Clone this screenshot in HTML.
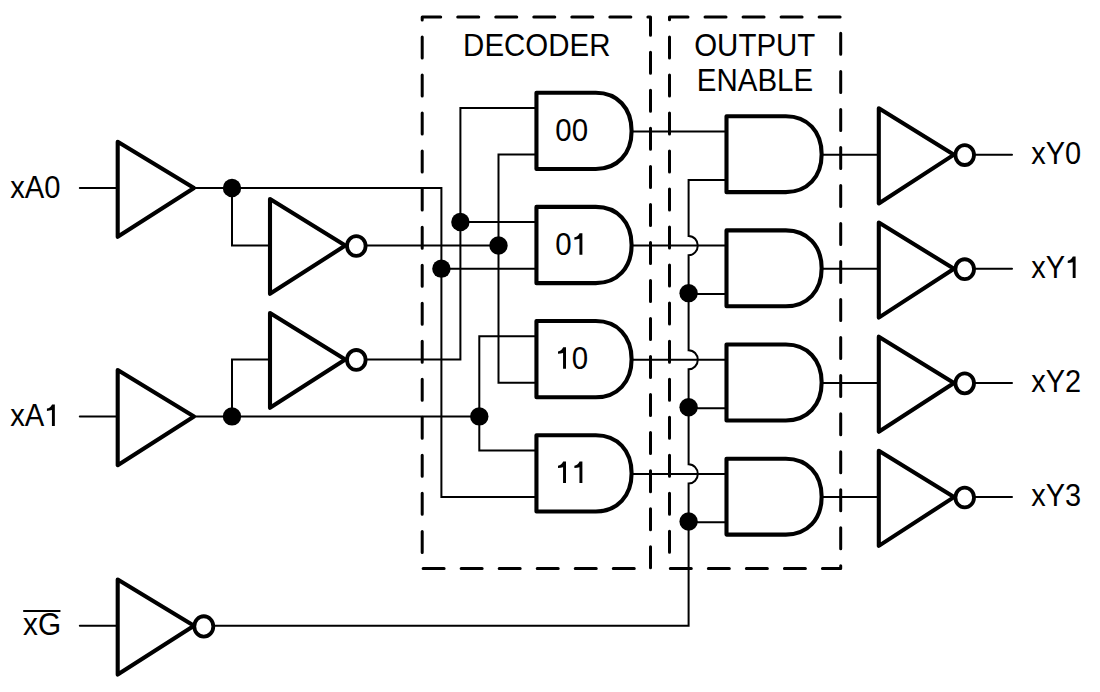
<!DOCTYPE html>
<html><head><meta charset="utf-8"><style>
html,body{margin:0;padding:0;background:#fff;width:1100px;height:692px;overflow:hidden}
svg{display:block}
text{font-family:"Liberation Sans",sans-serif}
</style></head><body>
<svg width="1100" height="692" viewBox="0 0 1100 692" stroke="#000" fill="none" stroke-linecap="round">
<path d="M422.2 16.9 L650.5 16.9 L650.5 568.5 L422.2 568.5 Z" fill="none" stroke-width="3.0" stroke-dasharray="21 17.03" stroke-dashoffset="2.5" stroke-linejoin="round"/>
<path d="M669.5 16.9 L840.7 16.9 L840.7 568.5 L669.5 568.5 Z" fill="none" stroke-width="3.0" stroke-dasharray="21 17.03" stroke-dashoffset="2.5" stroke-linejoin="round"/>
<path d="M79.80 188.00 L118.00 188.00" stroke-width="2.0"/>
<path d="M79.80 416.40 L118.00 416.40" stroke-width="2.0"/>
<path d="M79.80 625.80 L118.00 625.80" stroke-width="2.0"/>
<path d="M194.00 188.00 L441.40 188.00 L441.40 496.90 L536.45 496.90" stroke-width="2.0"/>
<path d="M232.00 188.00 L232.00 245.55 L270.00 245.55" stroke-width="2.0"/>
<path d="M356.00 245.55 L498.50 245.55" stroke-width="2.0"/>
<path d="M194.00 416.40 L479.30 416.40" stroke-width="2.0"/>
<path d="M232.00 416.40 L232.00 359.50 L270.00 359.50" stroke-width="2.0"/>
<path d="M356.00 359.50 L460.40 359.50 L460.40 107.90 L536.45 107.90" stroke-width="2.0"/>
<path d="M460.40 222.00 L536.45 222.00" stroke-width="2.0"/>
<path d="M441.40 268.65 L536.45 268.65" stroke-width="2.0"/>
<path d="M536.45 154.55 L498.50 154.55 L498.50 382.65 L536.45 382.65" stroke-width="2.0"/>
<path d="M536.45 336.20 L479.30 336.20 L479.30 450.40 L536.45 450.40" stroke-width="2.0"/>
<path d="M117.70 141.70 L194.00 188.00 L117.70 236.80 Z" fill="#fff" stroke-width="4.1" stroke-linejoin="round"/>
<path d="M117.70 370.10 L194.00 416.40 L117.70 465.20 Z" fill="#fff" stroke-width="4.1" stroke-linejoin="round"/>
<path d="M270.00 199.05 L345.30 245.55 L270.00 293.85 Z" fill="#fff" stroke-width="4.1" stroke-linejoin="round"/>
<path d="M270.00 313.00 L345.30 359.50 L270.00 407.80 Z" fill="#fff" stroke-width="4.1" stroke-linejoin="round"/>
<path d="M117.70 579.50 L194.00 625.80 L117.70 674.60 Z" fill="#fff" stroke-width="4.1" stroke-linejoin="round"/>
<ellipse cx="356.30" cy="246.00" rx="9.3" ry="9.950000000000001" fill="#fff" stroke-width="3.8"/>
<ellipse cx="356.30" cy="359.95" rx="9.3" ry="9.950000000000001" fill="#fff" stroke-width="3.8"/>
<ellipse cx="203.80" cy="626.40" rx="9.5" ry="10.15" fill="#fff" stroke-width="3.8"/>
<circle cx="232.00" cy="188.00" r="9.2" fill="#000" stroke="none"/>
<circle cx="232.00" cy="416.40" r="9.2" fill="#000" stroke="none"/>
<circle cx="460.40" cy="222.00" r="9.2" fill="#000" stroke="none"/>
<circle cx="498.50" cy="245.55" r="9.2" fill="#000" stroke="none"/>
<circle cx="441.40" cy="268.65" r="9.2" fill="#000" stroke="none"/>
<circle cx="479.30" cy="416.40" r="9.2" fill="#000" stroke="none"/>
<path d="M595.80 92.75 L536.45 92.75 L536.45 169.00 L595.80 169.00 C617.28 169.00 631.60 153.75 631.60 130.88 C631.60 108.00 617.28 92.75 595.80 92.75 Z" fill="#fff" stroke-width="4.1" stroke-linejoin="round"/>
<path d="M595.80 206.90 L536.45 206.90 L536.45 283.15 L595.80 283.15 C617.28 283.15 631.60 267.90 631.60 245.03 C631.60 222.15 617.28 206.90 595.80 206.90 Z" fill="#fff" stroke-width="4.1" stroke-linejoin="round"/>
<path d="M595.80 321.05 L536.45 321.05 L536.45 397.30 L595.80 397.30 C617.28 397.30 631.60 382.05 631.60 359.18 C631.60 336.30 617.28 321.05 595.80 321.05 Z" fill="#fff" stroke-width="4.1" stroke-linejoin="round"/>
<path d="M595.80 435.20 L536.45 435.20 L536.45 511.45 L595.80 511.45 C617.28 511.45 631.60 496.20 631.60 473.33 C631.60 450.45 617.28 435.20 595.80 435.20 Z" fill="#fff" stroke-width="4.1" stroke-linejoin="round"/>
<path d="M214 625.8 L688.6 625.8 L688.6 483.50 A9.2 9.6 0 0 0 688.6 464.30 L688.6 369.35 A9.2 9.6 0 0 0 688.6 350.15 L688.6 255.20 A9.2 9.6 0 0 0 688.6 236.00 L688.6 179.9 L726.5 179.9" stroke-width="2.0" fill="none"/>
<path d="M631.60 131.45 L726.50 131.45" stroke-width="2.0"/>
<path d="M785.85 116.25 L726.50 116.25 L726.50 192.15 L785.85 192.15 C807.33 192.15 821.65 176.97 821.65 154.20 C821.65 131.43 807.33 116.25 785.85 116.25 Z" fill="#fff" stroke-width="4.1" stroke-linejoin="round"/>
<path d="M821.60 154.65 L878.80 154.65" stroke-width="2.0"/>
<path d="M878.80 108.35 L954.00 154.65 L878.80 203.45 Z" fill="#fff" stroke-width="4.1" stroke-linejoin="round"/>
<ellipse cx="964.70" cy="155.05" rx="9.3" ry="9.950000000000001" fill="#fff" stroke-width="3.8"/>
<path d="M975.00 154.65 L1012.00 154.65" stroke-width="2.0"/>
<path d="M631.60 245.60 L726.50 245.60" stroke-width="2.0"/>
<path d="M688.60 294.05 L726.50 294.05" stroke-width="2.0"/>
<circle cx="688.60" cy="293.15" r="9.2" fill="#000" stroke="none"/>
<path d="M785.85 230.40 L726.50 230.40 L726.50 306.30 L785.85 306.30 C807.33 306.30 821.65 291.12 821.65 268.35 C821.65 245.58 807.33 230.40 785.85 230.40 Z" fill="#fff" stroke-width="4.1" stroke-linejoin="round"/>
<path d="M821.60 268.80 L878.80 268.80" stroke-width="2.0"/>
<path d="M878.80 222.50 L954.00 268.80 L878.80 317.60 Z" fill="#fff" stroke-width="4.1" stroke-linejoin="round"/>
<ellipse cx="964.70" cy="269.20" rx="9.3" ry="9.950000000000001" fill="#fff" stroke-width="3.8"/>
<path d="M975.00 268.80 L1012.00 268.80" stroke-width="2.0"/>
<path d="M631.60 359.75 L726.50 359.75" stroke-width="2.0"/>
<path d="M688.60 408.20 L726.50 408.20" stroke-width="2.0"/>
<circle cx="688.60" cy="407.30" r="9.2" fill="#000" stroke="none"/>
<path d="M785.85 344.55 L726.50 344.55 L726.50 420.45 L785.85 420.45 C807.33 420.45 821.65 405.27 821.65 382.50 C821.65 359.73 807.33 344.55 785.85 344.55 Z" fill="#fff" stroke-width="4.1" stroke-linejoin="round"/>
<path d="M821.60 382.95 L878.80 382.95" stroke-width="2.0"/>
<path d="M878.80 336.65 L954.00 382.95 L878.80 431.75 Z" fill="#fff" stroke-width="4.1" stroke-linejoin="round"/>
<ellipse cx="964.70" cy="383.35" rx="9.3" ry="9.950000000000001" fill="#fff" stroke-width="3.8"/>
<path d="M975.00 382.95 L1012.00 382.95" stroke-width="2.0"/>
<path d="M631.60 473.90 L726.50 473.90" stroke-width="2.0"/>
<path d="M688.60 522.35 L726.50 522.35" stroke-width="2.0"/>
<circle cx="688.60" cy="521.45" r="9.2" fill="#000" stroke="none"/>
<path d="M785.85 458.70 L726.50 458.70 L726.50 534.60 L785.85 534.60 C807.33 534.60 821.65 519.42 821.65 496.65 C821.65 473.88 807.33 458.70 785.85 458.70 Z" fill="#fff" stroke-width="4.1" stroke-linejoin="round"/>
<path d="M821.60 497.10 L878.80 497.10" stroke-width="2.0"/>
<path d="M878.80 450.80 L954.00 497.10 L878.80 545.90 Z" fill="#fff" stroke-width="4.1" stroke-linejoin="round"/>
<ellipse cx="964.70" cy="497.50" rx="9.3" ry="9.950000000000001" fill="#fff" stroke-width="3.8"/>
<path d="M975.00 497.10 L1012.00 497.10" stroke-width="2.0"/>
<text transform="translate(555.30 140.50) scale(0.921 1)" font-size="32.0" stroke="none" fill="#000">00</text>
<text transform="translate(1031.30 163.80) scale(0.905 1)" font-size="32.0" stroke="none" fill="#000">xY0</text>
<text transform="translate(555.30 254.65) scale(0.921 1)" font-size="32.0" stroke="none" fill="#000">0 </text>
<path d="M579.44 254.65 L579.44 238.85 Q577.19 239.55 574.39 239.65 L574.39 237.35 Q577.59 237.05 579.59 233.15 L582.39 233.15 L582.39 254.65 Z" fill="#000" stroke="none"/>
<text transform="translate(1031.30 277.95) scale(0.905 1)" font-size="32.0" stroke="none" fill="#000">xY </text>
<path d="M1072.71 277.95 L1072.71 262.15 Q1070.50 262.85 1067.75 262.95 L1067.75 260.65 Q1070.89 260.35 1072.86 256.45 L1075.61 256.45 L1075.61 277.95 Z" fill="#000" stroke="none"/>
<text transform="translate(555.30 368.80) scale(0.921 1)" font-size="32.0" stroke="none" fill="#000"> 0</text>
<path d="M563.05 368.80 L563.05 353.00 Q560.80 353.70 558.00 353.80 L558.00 351.50 Q561.20 351.20 563.20 347.30 L566.00 347.30 L566.00 368.80 Z" fill="#000" stroke="none"/>
<text transform="translate(1031.30 392.10) scale(0.905 1)" font-size="32.0" stroke="none" fill="#000">xY2</text>
<text transform="translate(555.30 482.95) scale(0.921 1)" font-size="32.0" stroke="none" fill="#000">  </text>
<path d="M563.05 482.95 L563.05 467.15 Q560.80 467.85 558.00 467.95 L558.00 465.65 Q561.20 465.35 563.20 461.45 L566.00 461.45 L566.00 482.95 Z" fill="#000" stroke="none"/>
<path d="M579.44 482.95 L579.44 467.15 Q577.19 467.85 574.39 467.95 L574.39 465.65 Q577.59 465.35 579.59 461.45 L582.39 461.45 L582.39 482.95 Z" fill="#000" stroke="none"/>
<text transform="translate(1031.30 506.25) scale(0.905 1)" font-size="32.0" stroke="none" fill="#000">xY3</text>
<text transform="translate(10.20 197.60) scale(0.912 1)" font-size="32.0" stroke="none" fill="#000">xA0</text>
<text transform="translate(10.20 425.90) scale(0.912 1)" font-size="32.0" stroke="none" fill="#000">xA </text>
<path d="M51.93 425.90 L51.93 410.10 Q49.70 410.80 46.93 410.90 L46.93 408.60 Q50.10 408.30 52.08 404.40 L54.85 404.40 L54.85 425.90 Z" fill="#000" stroke="none"/>
<text transform="translate(23.00 635.20) scale(0.93 1)" font-size="32.0" stroke="none" fill="#000">xG</text>
<path d="M24.00 611.00 L59.60 611.00" stroke-width="2.2"/>
<text transform="translate(463.10 56.00) scale(0.921 1)" font-size="32.0" stroke="none" fill="#000">DECODER</text>
<text transform="translate(694.20 56.00) scale(0.921 1)" font-size="32.0" stroke="none" fill="#000">OUTPUT</text>
<text transform="translate(696.80 91.20) scale(0.921 1)" font-size="32.0" stroke="none" fill="#000">ENABLE</text>
</svg>
</body></html>
